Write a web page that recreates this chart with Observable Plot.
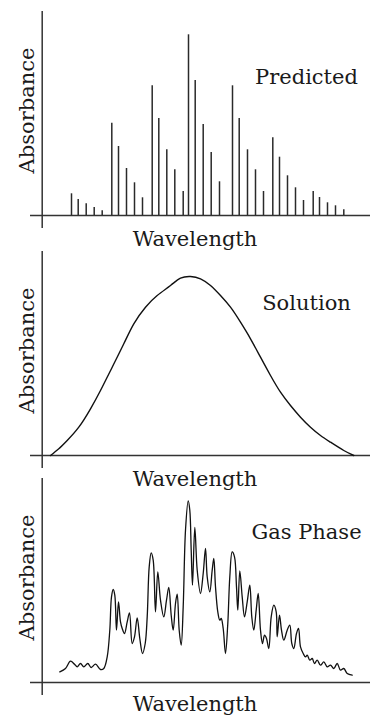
<!DOCTYPE html>
<html><head><meta charset="utf-8">
<script src="https://cdn.jsdelivr.net/npm/d3@7"></script>
<script src="https://cdn.jsdelivr.net/npm/@observablehq/plot@0.6"></script>
<style>
html,body{margin:0;padding:0;background:#fff;}
#chart{position:relative;width:370px;height:715px;overflow:hidden;background:#fff;}
#chart svg{position:absolute;left:0;}
</style></head><body><div id="chart"></div>
<script>
// Predicted stick spectrum (arbitrary wavelength units, arbitrary absorbance units)
const predictedWavelength = [71, 77.7, 85.7, 93.7, 101.7, 111.3, 118, 126, 134, 142, 151.7, 158.3, 166.3, 174.3, 182.7, 188, 194.7, 202.7, 210.7, 219, 232, 238.7, 247, 255, 263, 272.3, 279, 287, 295, 303, 312.7, 319, 327, 335, 343.3];
const predictedAbsorbance = [21.7, 16, 11.7, 8, 4.7, 92.3, 69, 47, 32.7, 17.7, 129.7, 97, 65.7, 45.7, 24, 180.7, 135, 91, 63, 33.7, 129.7, 97, 65.7, 45.7, 24, 77.7, 58.3, 39.7, 27.7, 15, 24, 18, 12.7, 9.7, 5.7];

// Solution band
const solutionWavelength = [50, 58.3, 66.7, 78.3, 90, 100, 111.7, 123.3, 133.3, 145, 156.7, 170, 180, 190, 200, 210, 220, 230, 240, 250, 260, 270, 280, 290, 300, 310, 320, 330, 343.3, 353.3];
const solutionAbsorbance = [0, 6.7, 15, 28.3, 46.7, 65, 88.3, 111.7, 131.7, 148.3, 160, 170, 177.3, 179, 176.7, 170, 160, 148.3, 133.3, 116.7, 98.3, 80, 63.3, 50, 38.3, 28.3, 20, 13.3, 5, 0];

// Gas phase spectrum
const gasWavelength = [59.3, 65, 70, 74, 76.7, 80, 83.3, 87.3, 90.7, 95, 100, 103.3, 106.7, 109.3, 111, 112.7, 114.3, 116, 118, 120, 121.7, 124, 126.7, 129, 131.7, 134, 136.7, 139.3, 142, 144.7, 146.7, 148.7, 150.7, 152.7, 155, 157.3, 160, 163.3, 166, 168.3, 170.7, 172.7, 175, 176.7, 178.7, 180.7, 182.7, 185, 187.7, 189.3, 190.7, 192, 194.3, 196.7, 200, 202.7, 205, 206.7, 209.3, 211.7, 213.3, 215, 217.3, 219.3, 220.7, 222.7, 225, 227.3, 229.3, 231.7, 234, 236, 237.3, 239.3, 241.7, 244, 246.7, 249.3, 251.3, 253.3, 255.7, 257.7, 260, 262, 264, 266, 268.3, 270.7, 273.3, 275.7, 276.7, 279, 281, 283.3, 286.7, 289.3, 291.3, 293.3, 296, 298, 300, 302.7, 305, 306.7, 309.3, 311.7, 314, 316.7, 320, 323.3, 326.7, 330, 333.3, 336.7, 340, 343.3, 346.7, 351.7];
const gasAbsorbance = [10.6, 14, 21.3, 18.3, 15.6, 19, 15.6, 19, 15, 18.3, 13, 14, 25.6, 52.3, 85.6, 93, 87.3, 52.3, 80.6, 60.6, 54, 49, 60.6, 69.6, 39, 45.6, 64.6, 44, 29, 39, 65.6, 115.6, 129.6, 122.3, 70.6, 110.6, 82.3, 65.6, 82.3, 95, 67.3, 52.3, 79, 88.3, 52.3, 37.3, 75.6, 152.3, 181.6, 172.3, 132.3, 97.3, 155, 112.3, 89, 109, 134, 105.6, 90.6, 112.3, 124, 95.6, 70.6, 62.3, 64, 54, 29, 59, 105.6, 130.6, 125.6, 95.6, 72.3, 111.6, 85.6, 65.6, 80.6, 97.3, 65.6, 52.3, 72.3, 89, 52.3, 39, 47.3, 44, 34, 65.6, 77.3, 70.6, 45.6, 67.3, 52.3, 42.3, 52.3, 57.3, 39, 34, 49, 54, 35.6, 29, 25.6, 27.3, 22.3, 24, 19, 22.3, 17.3, 20.6, 15.6, 17.3, 14, 19, 12.3, 14, 9, 7.3];

const panelTitles = ["Predicted", "Solution", "Gas Phase"];
const xLabel = "Wavelength";
const yLabel = "Absorbance";

const toRows = (xs, ys) => xs.map((x, i) => ({wavelength: x, absorbance: ys[i]}));
const predicted = toRows(predictedWavelength, predictedAbsorbance);
const solution = toRows(solutionWavelength, solutionAbsorbance);
const gas = toRows(gasWavelength, gasAbsorbance);

const FONT = "DejaVu Serif";
const INK = "#1a1a1a";
const AXIS = "#333";
const xDomain = [0, 370];
const yDomain = [-13, 204];
const yAxisAt = 41.7;
const xAxisExtent = [30, 370];

function panel({marks, title, titleY, xLabelY, top, height}) {
  const svg = Plot.plot({
    width: 370,
    height,
    marginTop: 11,
    marginBottom: height - 228,
    marginLeft: 0,
    marginRight: 0,
    x: {domain: xDomain, axis: null},
    y: {domain: yDomain, axis: null},
    style: {background: "transparent", overflow: "visible"},
    marks: [
      Plot.ruleY([0], {x1: xAxisExtent[0], x2: xAxisExtent[1], stroke: AXIS, strokeWidth: 1.5}),
      Plot.ruleX([yAxisAt], {y1: yDomain[0], y2: yDomain[1], stroke: AXIS, strokeWidth: 1.5}),
      ...marks,
      Plot.text([title], {x: 306, y: titleY, text: d => d, fontFamily: FONT, fontSize: 21, fill: INK, textAnchor: "middle", lineAnchor: "bottom"}),
      Plot.text([xLabel], {x: 194.5, y: xLabelY, text: d => d, fontFamily: FONT, fontSize: 21, fill: INK, textAnchor: "middle", lineAnchor: "bottom"}),
      Plot.text([yLabel], {x: 33, y: 105, text: d => d, rotate: -90, fontFamily: FONT, fontSize: 21, fill: INK, textAnchor: "middle", lineAnchor: "bottom"})
    ]
  });
  svg.style.top = top + "px";
  document.getElementById("chart").appendChild(svg);
}

panel({
  top: 0, height: 250, title: panelTitles[0], titleY: 131.7, xLabelY: -30.5,
  marks: [Plot.ruleX(predicted, {x: "wavelength", y1: 0, y2: "absorbance", stroke: "#2a2a2a", strokeWidth: 1.5})]
});
panel({
  top: 240, height: 250, title: panelTitles[1], titleY: 145.5, xLabelY: -30.5,
  marks: [Plot.line(solution, {x: "wavelength", y: "absorbance", curve: "natural", stroke: "#111", strokeWidth: 1.4})]
});
panel({
  top: 467, height: 248, title: panelTitles[2], titleY: 144, xLabelY: -28,
  marks: [Plot.line(gas, {x: "wavelength", y: "absorbance", curve: "catmull-rom", stroke: "#111", strokeWidth: 1.3, strokeLinejoin: "round"})]
});
</script></body></html>
